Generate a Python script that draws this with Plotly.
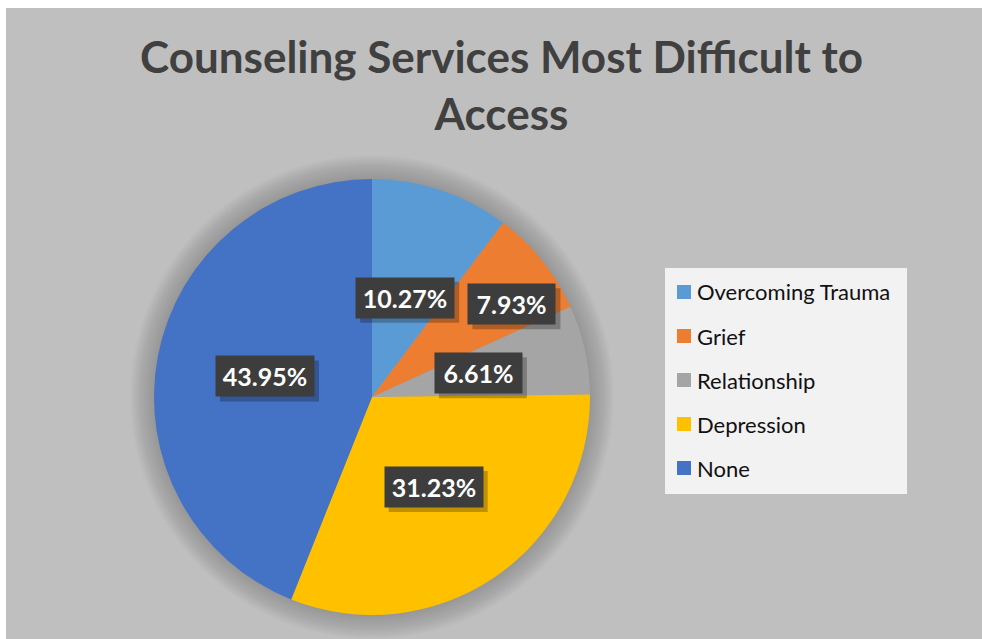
import math
import plotly.graph_objects as go

# Survey categories and their shares (%)
categories = ["Overcoming Trauma", "Grief", "Relationship", "Depression", "None"]
shares = [10.27, 7.93, 6.61, 31.23, 43.95]
colors = ["#5B9BD5", "#ED7D31", "#A5A5A5", "#FFC000", "#4472C4"]
title_text = "<b>Counseling Services Most Difficult to<br>Access</b>"

W, H = 982, 639
# pie geometry in pixels (center measured from the top-left corner)
CX, CY, R = 372, 397, 218
# label placement: radial fraction and angular nudge (deg) per slice
label_radius = [0.48, 0.77, 0.50, 0.50, 0.50]
label_nudge = [0.0, 5.2, 0.0, 0.0, 0.0]

FONT = "Lato, Carlito, 'Open Sans', sans-serif"

fig = go.Figure()
fig.add_trace(go.Pie(
    labels=categories,
    values=shares,
    sort=False,
    direction="clockwise",
    rotation=0,
    marker=dict(colors=colors, line=dict(width=0)),
    textinfo="none",
    hoverinfo="label+percent",
    showlegend=False,
    domain=dict(x=[(CX - R) / W, (CX + R) / W],
                y=[(H - CY - R) / H, (H - CY + R) / H]),
))


def px(x):
    return x / W


def py(y):
    return 1 - y / H


shapes = []
# chart area fill
shapes.append(dict(type="rect", xref="paper", yref="paper", layer="below",
                   x0=px(6), x1=1, y0=0, y1=py(8),
                   fillcolor="#bfbfbf", line=dict(width=0)))
# soft glow around the pie
for k in range(16, 0, -1):
    rr = R + k * 1.5
    shapes.append(dict(type="circle", xref="paper", yref="paper", layer="below",
                       x0=px(CX - rr), x1=px(CX + rr),
                       y0=py(CY + rr), y1=py(CY - rr),
                       fillcolor="rgba(0,0,0,0.011)", line=dict(width=0)))

annotations = []
annotations.append(dict(text=title_text, xref="paper", yref="paper",
                        x=px(501), y=py(28), xanchor="center", yanchor="top",
                        showarrow=False,
                        font=dict(family=FONT, size=44, color="#404040")))

# value labels: dark boxes with a drop shadow
total = sum(shares)
cum = 0.0
BOX_H = 40
for val, frac, nudge in zip(shares, label_radius, label_nudge):
    mid = (cum + val / 2) / total * 2 * math.pi + math.radians(nudge)
    cum += val
    lx = CX + frac * R * math.sin(mid)
    ly = CY - frac * R * math.cos(mid)
    txt = f"{val:.2f}%"
    tw = 11 * len(txt) + 22
    bw = tw + 10
    # shadow
    shapes.append(dict(type="rect", xref="paper", yref="paper", layer="above",
                       x0=px(lx - bw / 2 + 4), x1=px(lx + bw / 2 + 5),
                       y0=py(ly + BOX_H / 2 + 5), y1=py(ly - BOX_H / 2 + 4),
                       fillcolor="rgba(0,0,0,0.25)", line=dict(width=0)))
    annotations.append(dict(text=f"<b>{txt}</b>", xref="paper", yref="paper",
                            x=px(lx), y=py(ly), xanchor="center", yanchor="middle",
                            showarrow=False, width=tw, height=BOX_H - 10, borderpad=5,
                            bgcolor="#3d3d3d",
                            font=dict(family=FONT, size=25, color="white")))

# legend box
LX0, LX1, LY0, LY1 = 665, 907, 268, 494
shapes.append(dict(type="rect", xref="paper", yref="paper",
                   x0=px(LX0), x1=px(LX1), y0=py(LY1), y1=py(LY0),
                   fillcolor="#f2f2f2", line=dict(width=0)))
for i, (name, col) in enumerate(zip(categories, colors)):
    yc = 292 + 44 * i
    shapes.append(dict(type="rect", xref="paper", yref="paper",
                       x0=px(677), x1=px(691), y0=py(yc + 7), y1=py(yc - 7),
                       fillcolor=col, line=dict(width=0)))
    annotations.append(dict(text=name, xref="paper", yref="paper",
                            x=px(695), y=py(yc), xanchor="left", yanchor="middle",
                            showarrow=False,
                            font=dict(family=FONT, size=22, color="#111111")))

fig.update_layout(
    width=W, height=H,
    margin=dict(l=0, r=0, t=0, b=0),
    paper_bgcolor="white",
    plot_bgcolor="white",
    shapes=shapes,
    annotations=annotations,
)

fig.write_html("out.html", include_plotlyjs=True, config={"displayModeBar": False})
